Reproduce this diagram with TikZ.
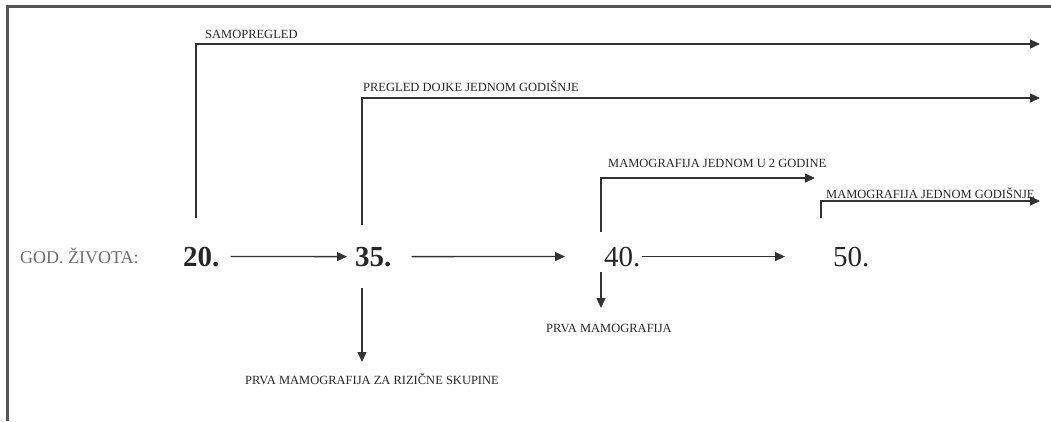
\documentclass[tikz,border=0pt]{standalone}
\usepackage{fontspec}
\setmainfont{Liberation Serif}[Ligatures=NoCommon]
\usetikzlibrary{arrows.meta}
\definecolor{ln}{HTML}{333333}
\definecolor{frm}{HTML}{555555}
\definecolor{gtx}{HTML}{707070}
\definecolor{tx}{HTML}{262626}
\tikzset{
  conn/.style={draw=ln, line width=1.3pt, -{Triangle[length=10pt,width=9pt]}},
  lab/.style={font=\fontsize{12.5}{13}\selectfont, text=tx, inner sep=0pt},
  numb/.style={font=\fontsize{29}{30}\selectfont\bfseries, text=tx, inner sep=0pt, anchor=base west},
  numr/.style={font=\fontsize{29}{30}\selectfont, text=tx, inner sep=0pt, anchor=base west},
  godlab/.style={font=\fontsize{18}{19}\selectfont, text=gtx, inner sep=0pt, anchor=base west},
}
\begin{document}
\begin{tikzpicture}[x=1pt,y=-1pt]
\useasboundingbox (0,0) rectangle (1051,421);
% frame
\draw[frm, line width=3pt] (7,421) -- (7,6) -- (1051,6);
% age row
\node[godlab] (god) at (20,263) {GOD. ŽIVOTA:};
\node[numb] (n20) at (183,266) {20.};
\node[numb] (n35) at (355,266) {35.};
\node[numr] (n40) at (604,266) {40.};
\node[numr] (n50) at (833,266) {50.};
\draw[conn] ([xshift=11pt]n20.east) -- ([xshift=-8pt]n35.west);
\draw[conn] ([xshift=20pt]n35.east) -- ([xshift=-39pt]n40.west);
\draw[conn] ([xshift=1pt]n40.east) -- ([xshift=-48pt]n50.west);
% upper timelines
\coordinate (s20) at (196,218);
\coordinate (e20) at (1040,44);
\draw[conn] (s20) |- (e20);
\node[lab, anchor=base west] (l20) at (205,38) {SAMOPREGLED};

\coordinate (s35) at (362,225);
\coordinate (e35) at (1040,98);
\draw[conn] (s35) |- (e35);
\node[lab, anchor=base west] (l35) at (363,91) {PREGLED DOJKE JEDNOM GODIŠNJE};

\coordinate (s40) at (601,232);
\coordinate (e40) at (815,178);
\draw[conn] (s40) |- (e40);
\node[lab, anchor=base west] (l40) at (608,167) {MAMOGRAFIJA JEDNOM U 2 GODINE};

\coordinate (s50) at (821,218);
\coordinate (e50) at (1040,201);
\draw[conn] (s50) |- (e50);
\node[lab, anchor=base west] (l50) at (826,198) {MAMOGRAFIJA JEDNOM GODIŠNJE};

% downward arrows
\node[lab, anchor=base] (p35) at (372,384) {PRVA MAMOGRAFIJA ZA RIZIČNE SKUPINE};
\coordinate (d35s) at (362,288);
\coordinate (d35e) at (362,362);
\draw[conn] (d35s) -- (d35e);

\node[lab, anchor=base] (p40) at (609,332) {PRVA MAMOGRAFIJA};
\coordinate (d40s) at (601,272);
\coordinate (d40e) at (601,308);
\draw[conn] (d40s) -- (d40e);
\end{tikzpicture}
\end{document}
